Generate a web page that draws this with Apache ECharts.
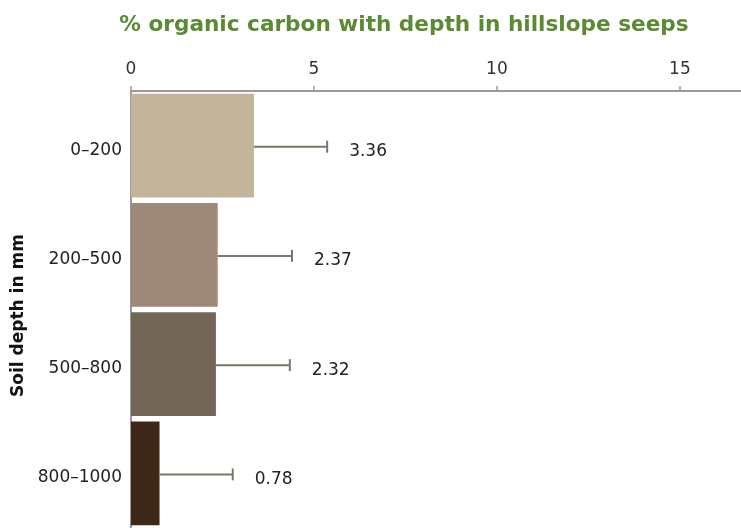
<!DOCTYPE html>
<html><head><meta charset="utf-8">
<script src="https://cdn.jsdelivr.net/npm/echarts@6/dist/echarts.min.js"></script>
<style>html,body{margin:0;padding:0;background:#fff}#c{width:741px;height:528px}</style>
</head><body><div id="c"></div>
<script>
const categories = ['0–200', '200–500', '500–800', '800–1000'];
const values = [3.36, 2.37, 2.32, 0.78];
const errors = [2.0, 2.03, 2.02, 2.0];
const valueLabels = ['3.36', '2.37', '2.32', '0.78'];
const barColors = ['#c3b59b', '#9e8979', '#736657', '#3e2717'];
const xTicks = [0, 5, 10, 15];

const chart = echarts.init(document.getElementById('c'), null, {renderer: 'canvas'});
const font = 'DejaVu Sans';
chart.setOption({
  animation: false,
  title: {
    text: '% organic carbon with depth in hillslope seeps',
    left: 399, textAlign: 'center', top: 9,
    textStyle: {color: '#5a8a31', fontSize: 21.6, fontWeight: 'bold', fontFamily: font}
  },
  grid: {left: 131, right: 0, top: 91, bottom: -6, containLabel: false},
  xAxis: {
    type: 'value', position: 'top', min: 0, max: 16.67, interval: 5,
    axisLine: {show: true, lineStyle: {color: '#9a9a9a', width: 2}},
    axisTick: {show: true, length: 5, lineStyle: {color: '#9a9a9a', width: 1.5}},
    splitLine: {show: false},
    axisLabel: {
      showMaxLabel: false, color: '#333', fontSize: 17, fontFamily: font, margin: 13,
      formatter: v => (xTicks.indexOf(v) >= 0 ? String(v) : '')
    }
  },
  yAxis: {
    type: 'category', data: categories, inverse: true,
    name: 'Soil depth in mm', nameLocation: 'middle', nameGap: 104, nameRotate: 90,
    nameTextStyle: {color: '#111', fontSize: 17, fontWeight: 'bold', fontFamily: font, padding: [0, 12, 0, 0]},
    axisLine: {lineStyle: {color: '#9a9a9a', width: 2}},
    axisTick: {length: 5, lineStyle: {color: '#9a9a9a', width: 1.5}},
    axisLabel: {
      margin: 9,
      formatter: v => '{a|' + v + '}',
      rich: {a: {color: '#222', fontSize: 17, fontFamily: font, padding: [9, 0, 0, 0]}}
    }
  },
  series: [{
    type: 'bar',
    data: values.map((v, i) => ({value: v, itemStyle: {color: barColors[i]}})),
    barCategoryGap: '5%'
  }, {
    type: 'custom',
    data: values.map((v, i) => [i, v, errors[i]]),
    renderItem: function (params, api) {
      const i = api.value(0), v = api.value(1), e = api.value(2);
      const p0 = api.coord([v, i]);
      const p1 = api.coord([v + e, i]);
      const y = p0[1] + 1;
      const st = {stroke: '#7e7468', lineWidth: 2};
      return {type: 'group', children: [
        {type: 'line', shape: {x1: p0[0], y1: y, x2: p1[0], y2: y}, style: st},
        {type: 'line', shape: {x1: p1[0], y1: y - 6, x2: p1[0], y2: y + 6}, style: st},
        {type: 'text', style: {text: valueLabels[i], x: p1[0] + 22, y: y + 5,
          textAlign: 'left', textVerticalAlign: 'middle', fill: '#222', fontSize: 17, fontFamily: font}}
      ]};
    },
    z: 5
  }]
});
</script></body></html>
